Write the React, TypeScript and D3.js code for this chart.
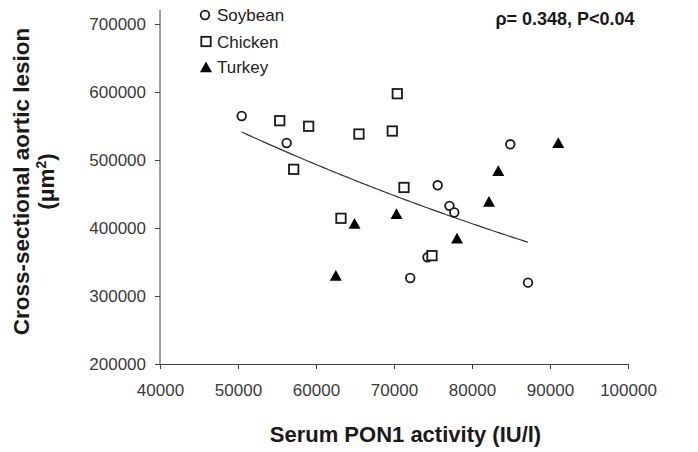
import React, { useEffect, useRef } from "react";
import * as d3 from "d3";

const W = 698;
const H = 452;

// Soybean group
const soyX = [50470, 56240, 75600, 77110, 77730, 84910, 74290, 72080, 87180];
const soyY = [564700, 525000, 462800, 432600, 422800, 523100, 356900, 326500, 319600];
// Chicken group
const chickX = [55350, 59060, 57140, 65510, 69780, 70420, 71280, 63200, 74870];
const chickY = [557800, 549600, 486300, 538200, 542600, 597500, 459600, 414300, 359300];
// Turkey group
const turkX = [64940, 70320, 78080, 82180, 83370, 91060, 62540];
const turkY = [406600, 420900, 385000, 439000, 484300, 525400, 330100];

const groups = ["Soybean", "Chicken", "Turkey"];
const xTicks = [40000, 50000, 60000, 70000, 80000, 90000, 100000];
const yTicks = [200000, 300000, 400000, 500000, 600000, 700000];

// exponential trendline through the Soybean series: y = a * e^(b*x)
const trendA = 883000;
const trendB = -9.7e-6;

const statsLabel = "ρ= 0.348, P<0.04";

const FONT = "'Liberation Sans', Arial, sans-serif";
const INK = "#1a1a1a";

export default function App() {
  const ref = useRef<SVGSVGElement>(null);

  useEffect(() => {
    document.body.style.margin = "0";
    const svg = d3.select(ref.current);
    svg.selectAll("*").remove();

    const x = d3.scaleLinear().domain([40000, 100000]).range([160, 628]);
    const y = d3.scaleLinear().domain([200000, 700000]).range([364, 24]);

    // axes
    const gx = svg.append("g")
      .attr("transform", "translate(0," + y(200000) + ")")
      .call(d3.axisBottom(x).tickValues(xTicks).tickSize(5).tickSizeOuter(0).tickPadding(15).tickFormat(d3.format("d")));
    const gy = svg.append("g")
      .attr("transform", "translate(" + x(40000) + ",0)")
      .call(d3.axisLeft(y).tickValues(yTicks).tickSize(5).tickSizeOuter(0).tickPadding(9).tickFormat(d3.format("d")));
    gy.select(".domain").remove();
    gy.append("line").attr("x1", 0).attr("x2", 0).attr("y1", 10).attr("y2", y(200000)).attr("stroke", "currentColor");

    [gx, gy].forEach(g => {
      g.attr("font-family", FONT).attr("font-size", 17).attr("color", "#404040");
      g.selectAll("text").attr("fill", "#3a3a3a");
    });

    // trendline
    const tx = d3.extent(soyX) as [number, number];
    const samples = d3.range(0, 101).map(i => tx[0] + (tx[1] - tx[0]) * i / 100);
    const line = d3.line<number>().x(d => x(d)).y(d => y(trendA * Math.exp(trendB * d)));
    svg.append("path").datum(samples).attr("d", line).attr("fill", "none")
      .attr("stroke", "#333").attr("stroke-width", 1.2);

    const tri = "M0,-5.5L6,5.3L-6,5.3Z";

    // points
    svg.append("g").selectAll("circle").data(soyX).enter().append("circle")
      .attr("cx", d => x(d)).attr("cy", (d, i) => y(soyY[i])).attr("r", 4.3)
      .attr("fill", "#fff").attr("stroke", INK).attr("stroke-width", 1.8);
    svg.append("g").selectAll("rect").data(chickX).enter().append("rect")
      .attr("x", d => x(d) - 4.7).attr("y", (d, i) => y(chickY[i]) - 4.7)
      .attr("width", 9.4).attr("height", 9.4)
      .attr("fill", "#fff").attr("stroke", INK).attr("stroke-width", 1.8);
    svg.append("g").selectAll("path").data(turkX).enter().append("path")
      .attr("d", tri).attr("transform", (d, i) => "translate(" + x(d) + "," + y(turkY[i]) + ")")
      .attr("fill", "#000");

    // legend
    const lg = svg.append("g").attr("font-family", FONT).attr("font-size", 17).attr("fill", "#222");
    const rowY = [15, 41.5, 67];
    lg.append("circle").attr("cx", 205).attr("cy", rowY[0]).attr("r", 4.3)
      .attr("fill", "#fff").attr("stroke", INK).attr("stroke-width", 1.8);
    lg.append("rect").attr("x", 201.3).attr("y", rowY[1] - 4.7).attr("width", 9.4).attr("height", 9.4)
      .attr("fill", "#fff").attr("stroke", INK).attr("stroke-width", 1.8);
    lg.append("path").attr("d", tri).attr("transform", "translate(206," + rowY[2] + ")").attr("fill", "#000");
    lg.selectAll("text").data(groups).enter().append("text")
      .attr("x", 217).attr("y", (d, i) => rowY[i] + 6).text(d => d);

    // stats
    svg.append("text").attr("x", 565).attr("y", 25).attr("text-anchor", "middle")
      .attr("font-family", FONT).attr("font-size", 18).attr("font-weight", "bold").attr("fill", INK)
      .text(statsLabel);

    // axis titles
    svg.append("text").attr("x", 405.5).attr("y", 442).attr("text-anchor", "middle")
      .attr("font-family", FONT).attr("font-size", 22).attr("font-weight", "bold").attr("fill", INK)
      .text("Serum PON1 activity (IU/l)");

    const yt = svg.append("text").attr("transform", "translate(29,181.5) rotate(-90)")
      .attr("text-anchor", "middle").attr("font-family", FONT).attr("font-size", 22.5)
      .attr("font-weight", "bold").attr("fill", INK);
    yt.append("tspan").attr("x", 0).attr("y", 0).text("Cross-sectional aortic lesion");
    const t2 = yt.append("tspan").attr("x", 0).attr("y", 25).text("(μm");
    t2.append("tspan").attr("font-size", 14).attr("dy", -8).text("2");
    yt.append("tspan").attr("dy", 8).text(")");
  }, []);

  return <svg ref={ref} width={W} height={H} style={{ display: "block", background: "#fff" }} />;
}
